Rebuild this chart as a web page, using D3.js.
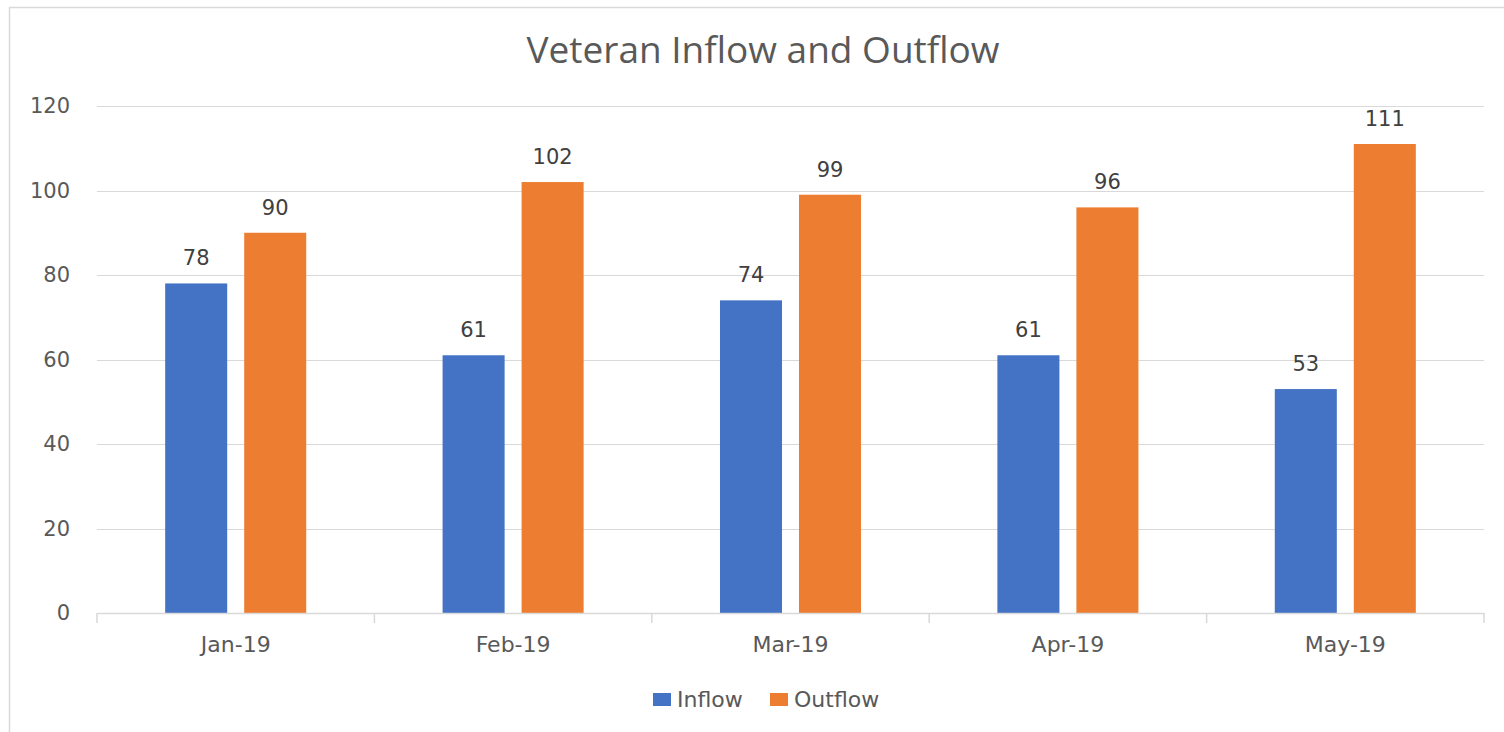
<!DOCTYPE html>
<html lang="en">
<head>
    <meta charset="UTF-8">
    <title>Veteran Inflow and Outflow</title>
    <script src="https://d3js.org/d3.v7.min.js"></script>
    <style>
        body {
            margin: 0;
            background: #fff;
        }

        svg text {
            font-family: "DejaVu Sans", sans-serif;
            fill: #595959;
        }

        .grid line {
            stroke: #d9d9d9;
            stroke-width: 1px;
        }
    </style>
</head>
<body>

<div id="chart"></div>

<script>
    // values
    const months = ["Jan-19", "Feb-19", "Mar-19", "Apr-19", "May-19"];
    const inflow = [78, 61, 74, 61, 53];
    const outflow = [90, 102, 99, 96, 111];
    const seriesNames = ["Inflow", "Outflow"];
    const yTicks = [0, 20, 40, 60, 80, 100, 120];
    const colors = ["#4472C4", "#ED7D31"];

    const width = 1504, height = 732;
    const margin = {top: 106, right: 20, bottom: 119, left: 97};

    const svg = d3.select("#chart").append("svg")
        .attr("width", width)
        .attr("height", height);

    // outer frame
    svg.append("rect")
        .attr("x", 9.5).attr("y", 7.5)
        .attr("width", width).attr("height", height)
        .attr("fill", "none")
        .attr("stroke", "#d9d9d9")
        .attr("stroke-width", 1.5);

    const x = d3.scaleBand()
        .domain(months)
        .range([margin.left, width - margin.right]);

    const x1 = d3.scaleBand()
        .domain(seriesNames)
        .range([0, x.bandwidth()])
        .paddingInner(0.215)
        .paddingOuter(0.863);

    const y = d3.scaleLinear()
        .domain([0, 120])
        .range([height - margin.bottom, margin.top]);

    // gridlines
    svg.append("g")
        .attr("class", "grid")
        .selectAll("line")
        .data(yTicks.filter(d => d > 0))
        .join("line")
        .attr("x1", margin.left)
        .attr("x2", width - margin.right)
        .attr("y1", d => Math.round(y(d)) + 0.5)
        .attr("y2", d => Math.round(y(d)) + 0.5);

    // y axis labels
    svg.append("g")
        .selectAll("text")
        .data(yTicks)
        .join("text")
        .attr("x", 70)
        .attr("y", d => y(d))
        .attr("dy", "0.35em")
        .attr("text-anchor", "end")
        .style("font-size", "21px")
        .text(d => d);

    // bars
    const series = [inflow, outflow];
    const groups = svg.append("g")
        .selectAll("g")
        .data(months)
        .join("g")
        .attr("transform", d => `translate(${x(d)},0)`);

    groups.selectAll("rect")
        .data((m, i) => seriesNames.map((s, k) => ({s, v: series[k][i]})))
        .join("rect")
        .attr("x", d => x1(d.s))
        .attr("y", d => y(d.v))
        .attr("width", x1.bandwidth())
        .attr("height", d => y(0) - y(d.v))
        .attr("fill", (d, k) => colors[k]);

    groups.selectAll("text")
        .data((m, i) => seriesNames.map((s, k) => ({s, v: series[k][i]})))
        .join("text")
        .attr("x", d => x1(d.s) + x1.bandwidth() / 2)
        .attr("y", d => y(d.v) - 18)
        .attr("text-anchor", "middle")
        .style("font-size", "21px")
        .style("fill", "#404040")
        .text(d => d.v);

    // x axis
    const xAxis = svg.append("g")
        .attr("transform", `translate(0,${y(0)})`)
        .call(d3.axisBottom(x).tickSize(0).tickPadding(23));
    xAxis.select(".domain").attr("stroke", "#d9d9d9").attr("stroke-width", 1.5);
    xAxis.selectAll("text")
        .style("font-size", "22px")
        .style("fill", "#595959")
        .style("font-family", "\"DejaVu Sans\", sans-serif");

    // category separators below axis
    const edges = months.map(m => x(m)).concat([x.range()[1]]);
    xAxis.selectAll(".sep")
        .data(edges)
        .join("line")
        .attr("class", "sep")
        .attr("x1", d => d).attr("x2", d => d)
        .attr("y1", 0).attr("y2", 10)
        .attr("stroke", "#d9d9d9")
        .attr("stroke-width", 1.5);

    // title
    svg.append("text")
        .attr("x", 763)
        .attr("y", 63)
        .attr("text-anchor", "middle")
        .style("font-family", "\"Open Sans\", sans-serif")
        .style("font-size", "37px")
        .text("Veteran Inflow and Outflow");

    // legend
    const legendItems = [
        {name: seriesNames[0], color: colors[0], x: 653},
        {name: seriesNames[1], color: colors[1], x: 770}
    ];
    const legend = svg.append("g")
        .selectAll("g")
        .data(legendItems)
        .join("g")
        .attr("transform", d => `translate(${d.x},693)`);
    legend.append("rect")
        .attr("width", 18).attr("height", 13)
        .attr("fill", d => d.color);
    legend.append("text")
        .attr("x", 24)
        .attr("y", 6.5)
        .attr("dy", "0.35em")
        .style("font-size", "22px")
        .text(d => d.name);
</script>

</body>
</html>
